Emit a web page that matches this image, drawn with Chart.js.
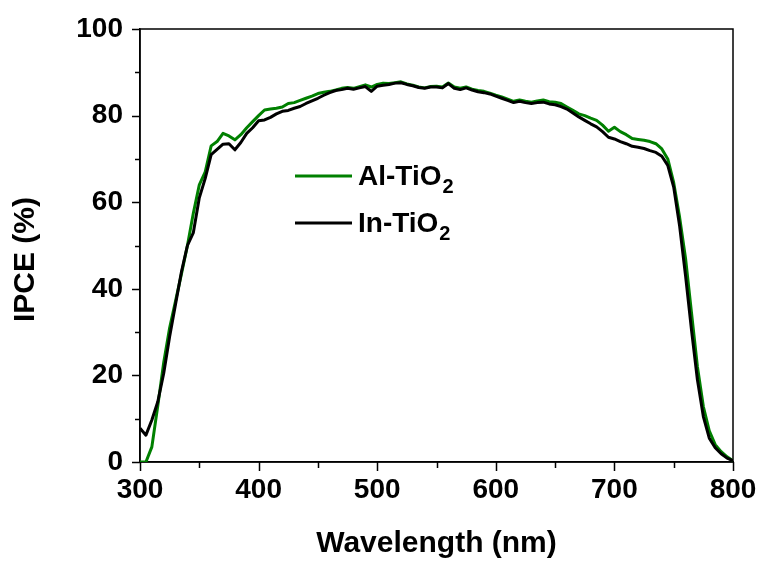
<!DOCTYPE html>
<html>
<head>
<meta charset="utf-8">
<script src="https://cdn.jsdelivr.net/npm/chart.js@4.4.0/dist/chart.umd.min.js"></script>
<style>
  html, body { margin: 0; padding: 0; background: #fff; }
  #wrap { width: 763px; height: 562px; }
</style>
</head>
<body>
<div id="wrap"><canvas id="ipceChart" width="763" height="562"></canvas></div>
<script>
// --- DATA ---
const wavelengths = [
    300, 305, 310, 315, 320, 325, 330, 335, 340, 345,
    350, 355, 360, 365, 370, 375, 380, 385, 390, 395,
    400, 405, 410, 415, 420, 425, 430, 435, 440, 445,
    450, 455, 460, 465, 470, 475, 480, 485, 490, 495,
    500, 505, 510, 515, 520, 525, 530, 535, 540, 545,
    550, 555, 560, 565, 570, 575, 580, 585, 590, 595,
    600, 605, 610, 615, 620, 625, 630, 635, 640, 645,
    650, 655, 660, 665, 670, 675, 680, 685, 690, 695,
    700, 705, 710, 715, 720, 725, 730, 735, 740, 745,
    750, 755, 760, 765, 770, 775, 780, 785, 790, 795,
    800
];
const alTiO2 = [
    0, 0, 3.5, 13, 23, 31, 37.2, 43.5, 50, 57.5,
    64, 67, 73, 74, 75.9, 75.3, 74.4, 75.6, 77.2, 78.6,
    80, 81.3, 81.5, 81.7, 82, 82.8, 83, 83.5, 84, 84.5,
    85.1, 85.4, 85.6, 85.9, 86.3, 86.5, 86.3, 86.7, 87.1, 86.6,
    87.2, 87.5, 87.4, 87.6, 87.8, 87.3, 87, 86.6, 86.4, 86.7,
    86.8, 86.6, 87.5, 86.6, 86.3, 86.6, 86.1, 85.8, 85.6, 85.2,
    84.7, 84.3, 83.8, 83.3, 83.6, 83.3, 83.1, 83.4, 83.6, 83.2,
    83.1, 82.8, 82, 81.2, 80.4, 80, 79.4, 78.9, 77.8, 76.4,
    77.3, 76.3, 75.6, 74.7, 74.5, 74.3, 74, 73.5, 72.3, 70,
    64.5, 56.5, 47, 34.5, 22, 12.8, 7.2, 4, 2.4, 1.2,
    0.3
];
const inTiO2 = [
    7.8, 6.2, 9.7, 13.9, 20.5, 29, 36.5, 44, 50, 53,
    61, 65.5, 71, 72.2, 73.4, 73.5, 72.1, 73.8, 75.9, 77.2,
    78.8, 79, 79.6, 80.4, 81, 81.2, 81.7, 82.1, 82.8, 83.4,
    84, 84.7, 85.3, 85.8, 86, 86.3, 86.1, 86.4, 86.7, 85.6,
    86.8, 87, 87.2, 87.5, 87.6, 87.2, 86.9, 86.5, 86.3, 86.6,
    86.6, 86.4, 87.4, 86.3, 86, 86.4, 85.9, 85.5, 85.3, 85,
    84.5, 84, 83.5, 83, 83.3, 83, 82.8, 83, 83.1, 82.7,
    82.5, 82.1, 81.5, 80.6, 79.7, 78.9, 78.1, 77.4, 76.3, 75,
    74.6, 74, 73.5, 72.9, 72.7, 72.4, 71.9, 71.5, 70.6, 68.5,
    63.5, 54.5, 43, 30.5, 19, 10.5, 5.5, 3.3, 1.9, 0.9,
    0.3
];
const seriesLabels = ['Al-TiO2', 'In-TiO2'];
const seriesColors = ['#008000', '#000000'];
const xRange = [300, 800];
const yRange = [0, 100];
const xTitle = 'Wavelength (nm)';
const yTitle = 'IPCE (%)';

const FONT = '"Liberation Sans", Arial, sans-serif';

// --- FRAME, MINOR TICKS, Y TITLE, LEGEND ---
const decorations = {
    id: 'decorations',
    beforeDatasetsDraw(chart) {
        const { ctx, chartArea: a, scales: { x, y } } = chart;
        ctx.save();
        ctx.strokeStyle = '#000';
        ctx.lineWidth = 1.5;
        ctx.strokeRect(a.left, a.top, a.right - a.left, a.bottom - a.top);
        ctx.beginPath();
        for (let v = xRange[0]; v <= xRange[1]; v += 50) {
            const px = Math.round(x.getPixelForValue(v)) + 0.5;
            const len = v % 100 === 0 ? 9 : 6;
            ctx.moveTo(px, a.bottom); ctx.lineTo(px, a.bottom + len);
        }
        for (let v = yRange[0]; v <= yRange[1]; v += 10) {
            const py = Math.round(y.getPixelForValue(v)) + 0.5;
            const len = v % 20 === 0 ? 8 : 5;
            ctx.moveTo(a.left, py); ctx.lineTo(a.left - len, py);
        }
        ctx.stroke();
        ctx.restore();
    },
    afterDraw(chart) {
        const { ctx, chartArea: a } = chart;
        ctx.save();
        // y axis title
        ctx.fillStyle = '#000';
        ctx.font = 'bold 30px ' + FONT;
        ctx.textAlign = 'center';
        ctx.textBaseline = 'middle';
        ctx.translate(26, (a.top + a.bottom) / 2 + 14);
        ctx.rotate(-Math.PI / 2);
        ctx.fillText(yTitle, 0, 0);
        ctx.restore();

        // legend with subscript
        ctx.save();
        ctx.textAlign = 'left';
        ctx.textBaseline = 'alphabetic';
        seriesLabels.forEach((label, i) => {
            const rowY = 176 + i * 47;
            ctx.strokeStyle = seriesColors[i];
            ctx.lineWidth = 3;
            ctx.beginPath();
            ctx.moveTo(295, rowY); ctx.lineTo(352, rowY);
            ctx.stroke();
            const base = label.slice(0, -1), sub = label.slice(-1);
            ctx.fillStyle = '#000';
            ctx.font = 'bold 28px ' + FONT;
            ctx.fillText(base, 358, rowY + 9);
            const w = ctx.measureText(base).width;
            ctx.font = 'bold 20px ' + FONT;
            ctx.fillText(sub, 358 + w + 1, rowY + 17);
        });
        ctx.restore();
    }
};

const toPoints = vals => wavelengths.map((w, i) => ({ x: w, y: vals[i] }));

// fixed axis boxes, no extra label overflow padding
const fixBox = size => s => {
    if (s.isHorizontal()) s.height = size; else s.width = size;
    s.paddingLeft = s.paddingRight = s.paddingTop = s.paddingBottom = 0;
};

new Chart(document.getElementById('ipceChart'), {
    type: 'line',
    data: {
        datasets: [
            { label: seriesLabels[0], data: toPoints(alTiO2), borderColor: seriesColors[0], borderWidth: 3, order: 1 },
            { label: seriesLabels[1], data: toPoints(inTiO2), borderColor: seriesColors[1], borderWidth: 3, order: 0 }
        ]
    },
    options: {
        responsive: false,
        animation: false,
        devicePixelRatio: 1,
        layout: { padding: { top: 29, right: 30, left: 0, bottom: 0 } },
        elements: { point: { radius: 0 }, line: { tension: 0, borderJoinStyle: 'round' } },
        plugins: { legend: { display: false }, tooltip: { enabled: false } },
        scales: {
            x: {
                type: 'linear', min: xRange[0], max: xRange[1],
                grid: { display: false, drawTicks: false },
                border: { display: true, color: '#000', width: 1.5 },
                ticks: { stepSize: 100, padding: 11, color: '#000', font: { family: FONT, size: 28, weight: 'bold' }, maxRotation: 0 },
                title: { display: true, text: xTitle, color: '#000', font: { family: FONT, size: 30, weight: 'bold' }, padding: { top: 0, bottom: 0 } },
                afterFit: fixBox(100)
            },
            y: {
                type: 'linear', min: yRange[0], max: yRange[1],
                grid: { display: false, drawTicks: false },
                border: { display: true, color: '#000', width: 1.5 },
                ticks: { stepSize: 20, padding: 17, color: '#000', font: { family: FONT, size: 28, weight: 'bold' } },
                afterFit: fixBox(140)
            }
        }
    },
    plugins: [decorations]
});
</script>
</body>
</html>
